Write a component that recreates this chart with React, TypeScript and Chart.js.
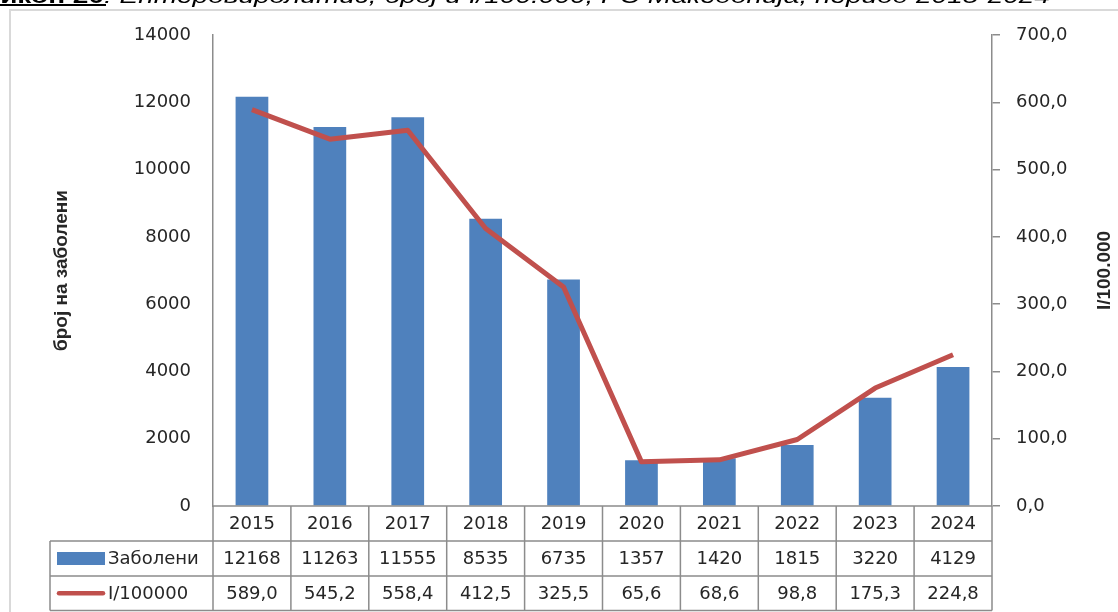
import React, { useEffect, useRef } from 'react';
import { Chart, registerables } from 'chart.js';

Chart.register(...registerables);

const years = ['2015', '2016', '2017', '2018', '2019', '2020', '2021', '2022', '2023', '2024'];
const cases = [12168, 11263, 11555, 8535, 6735, 1357, 1420, 1815, 3220, 4129];
const incidence = [589.0, 545.2, 558.4, 412.5, 325.5, 65.6, 68.6, 98.8, 175.3, 224.8];
const seriesNames = ['Заболени', 'I/100000'];
const leftTitle = 'број на заболени';
const rightTitle = 'I/100.000';
const titleBold = 'Графикон 20';
const titleRest = ': Ентеровиролитис, број и I/100.000, РС Македонија, период 2015-2024';
const leftMax = 14000;
const leftStep = 2000;
const rightMax = 700;
const rightStep = 100;

const BLUE = '#4F81BD';
const RED = '#C0504D';
const GRID = '#8c8c8c';
const TEXT = '#262626';
const NUM_FONT = '18px "DejaVu Sans"';

const fmtComma = (v: number) => v.toFixed(1).replace('.', ',');

const tablePlugin = {
  id: 'tablePlugin',
  beforeDraw(chart: any) {
    const { ctx, width, height } = chart;
    ctx.save();
    ctx.strokeStyle = '#d9d9d9';
    ctx.lineWidth = 2;
    ctx.beginPath();
    ctx.moveTo(10, height);
    ctx.lineTo(10, 10);
    ctx.lineTo(width, 10);
    ctx.stroke();
    ctx.restore();
  },
  afterDraw(chart: any) {
    const { ctx, chartArea } = chart;
    const left = chartArea.left;
    const right = chartArea.right;
    const n = years.length;
    const cw = (right - left) / n;
    const y0 = chartArea.bottom;
    const rh = 35;
    const r1 = y0 + rh;
    const r2 = r1 + rh;
    const r3 = r2 + rh - 0.5;
    const tLeft = 50;
    ctx.save();
    ctx.strokeStyle = GRID;
    ctx.lineWidth = 1.5;
    ctx.beginPath();
    ctx.moveTo(left, y0);
    ctx.lineTo(right, y0);
    [r1, r2, r3].forEach((yy) => {
      ctx.moveTo(tLeft, yy);
      ctx.lineTo(right, yy);
    });
    ctx.moveTo(tLeft, r1);
    ctx.lineTo(tLeft, r3);
    for (let i = 0; i <= n; i++) {
      const xx = left + i * cw;
      ctx.moveTo(xx, y0);
      ctx.lineTo(xx, r3);
    }
    ctx.stroke();

    ctx.fillStyle = TEXT;
    ctx.font = NUM_FONT;
    ctx.textAlign = 'center';
    ctx.textBaseline = 'middle';
    for (let i = 0; i < n; i++) {
      const cx = chart.scales.x.getPixelForValue(i);
      ctx.fillText(years[i], cx, (y0 + r1) / 2 + 1);
      ctx.fillText(String(cases[i]), cx, (r1 + r2) / 2 + 1);
      ctx.fillText(fmtComma(incidence[i]), cx, (r2 + r3) / 2 + 1);
    }

    // legend keys
    ctx.fillStyle = BLUE;
    ctx.fillRect(57, (r1 + r2) / 2 - 6.5, 48, 13);
    ctx.strokeStyle = RED;
    ctx.lineWidth = 4.5;
    ctx.lineCap = 'round';
    ctx.beginPath();
    ctx.moveTo(59, (r2 + r3) / 2);
    ctx.lineTo(103, (r2 + r3) / 2);
    ctx.stroke();
    ctx.fillStyle = TEXT;
    ctx.textAlign = 'left';
    ctx.fillText(seriesNames[0], 108, (r1 + r2) / 2 + 1);
    ctx.fillText(seriesNames[1], 108, (r2 + r3) / 2 + 1);

    // axis titles
    const cy = (chartArea.top + chartArea.bottom) / 2;
    ctx.font = 'bold 19px "Liberation Sans"';
    ctx.textAlign = 'center';
    ctx.textBaseline = 'middle';
    ctx.save();
    ctx.translate(62, cy);
    ctx.rotate(-Math.PI / 2);
    ctx.fillText(leftTitle, 0, 0);
    ctx.restore();
    ctx.save();
    ctx.translate(1105, cy);
    ctx.rotate(-Math.PI / 2);
    ctx.fillText(rightTitle, 0, 0);
    ctx.restore();
    ctx.restore();

    // clipped caption at very top
    ctx.save();
    ctx.setTransform(1, 0, 0, 1, 0, 0);
    ctx.fillStyle = '#000';
    ctx.textBaseline = 'alphabetic';
    ctx.font = 'italic 20px "Liberation Sans"';
    const iw = ctx.measureText(titleRest).width;
    const sx = (1052 - 106) / iw;
    ctx.fillRect(0, 4, 106, 2);
    ctx.save();
    ctx.translate(104, 3);
    ctx.scale(sx, 1);
    ctx.font = 'bold 20px "Liberation Sans"';
    ctx.textAlign = 'right';
    ctx.fillText(titleBold, 0, 0);
    ctx.font = 'italic 20px "Liberation Sans"';
    ctx.textAlign = 'left';
    ctx.fillText(titleRest, 0, 0);
    ctx.restore();
    ctx.restore();
  },
};

export default function App() {
  const ref = useRef<HTMLCanvasElement | null>(null);
  useEffect(() => {
    if (!ref.current) return;
    const chart = new Chart(ref.current, {
      type: 'bar',
      data: {
        labels: years,
        datasets: [
          {
            type: 'line',
            label: seriesNames[1],
            data: incidence,
            yAxisID: 'y1',
            borderColor: RED,
            backgroundColor: RED,
            borderWidth: 5,
            pointRadius: 0,
            tension: 0,
            borderJoinStyle: 'round',
            order: 0,
          } as any,
          {
            type: 'bar',
            label: seriesNames[0],
            data: cases,
            yAxisID: 'y',
            backgroundColor: BLUE,
            barPercentage: 0.42,
            categoryPercentage: 1,
            order: 1,
          } as any,
        ],
      },
      options: {
        responsive: true,
        maintainAspectRatio: false,
        animation: false,
        layout: { padding: { left: 0, right: 0, top: 35, bottom: 106 } },
        plugins: {
          legend: { display: false },
          tooltip: { enabled: false },
        },
        scales: {
          x: { display: false, offset: true },
          y: {
            position: 'left',
            min: 0,
            max: leftMax,
            ticks: {
              stepSize: leftStep,
              padding: 22,
              color: TEXT,
              font: { family: 'DejaVu Sans', size: 18 },
              callback: (v: any) => String(v),
            },
            grid: { drawOnChartArea: false, drawTicks: false },
            border: { color: GRID, width: 1.5 },
            afterFit: (s: any) => {
              s.width = 213;
            },
          },
          y1: {
            position: 'right',
            min: 0,
            max: rightMax,
            ticks: {
              stepSize: rightStep,
              padding: 16,
              color: TEXT,
              font: { family: 'DejaVu Sans', size: 18 },
              callback: (v: any) => fmtComma(Number(v)),
            },
            grid: { drawOnChartArea: false, drawTicks: true, tickLength: 8, color: GRID, lineWidth: 1.5 },
            border: { color: GRID, width: 1.5 },
            afterFit: (s: any) => {
              s.width = 1118 - 992;
            },
          },
        },
      } as any,
      plugins: [tablePlugin],
    });
    return () => chart.destroy();
  }, []);
  return (
    <div style={{ position: 'fixed', left: 0, top: 0, width: 1118, height: 612, background: '#fff' }}>
      <canvas ref={ref} style={{ display: 'block' }} />
    </div>
  );
}
